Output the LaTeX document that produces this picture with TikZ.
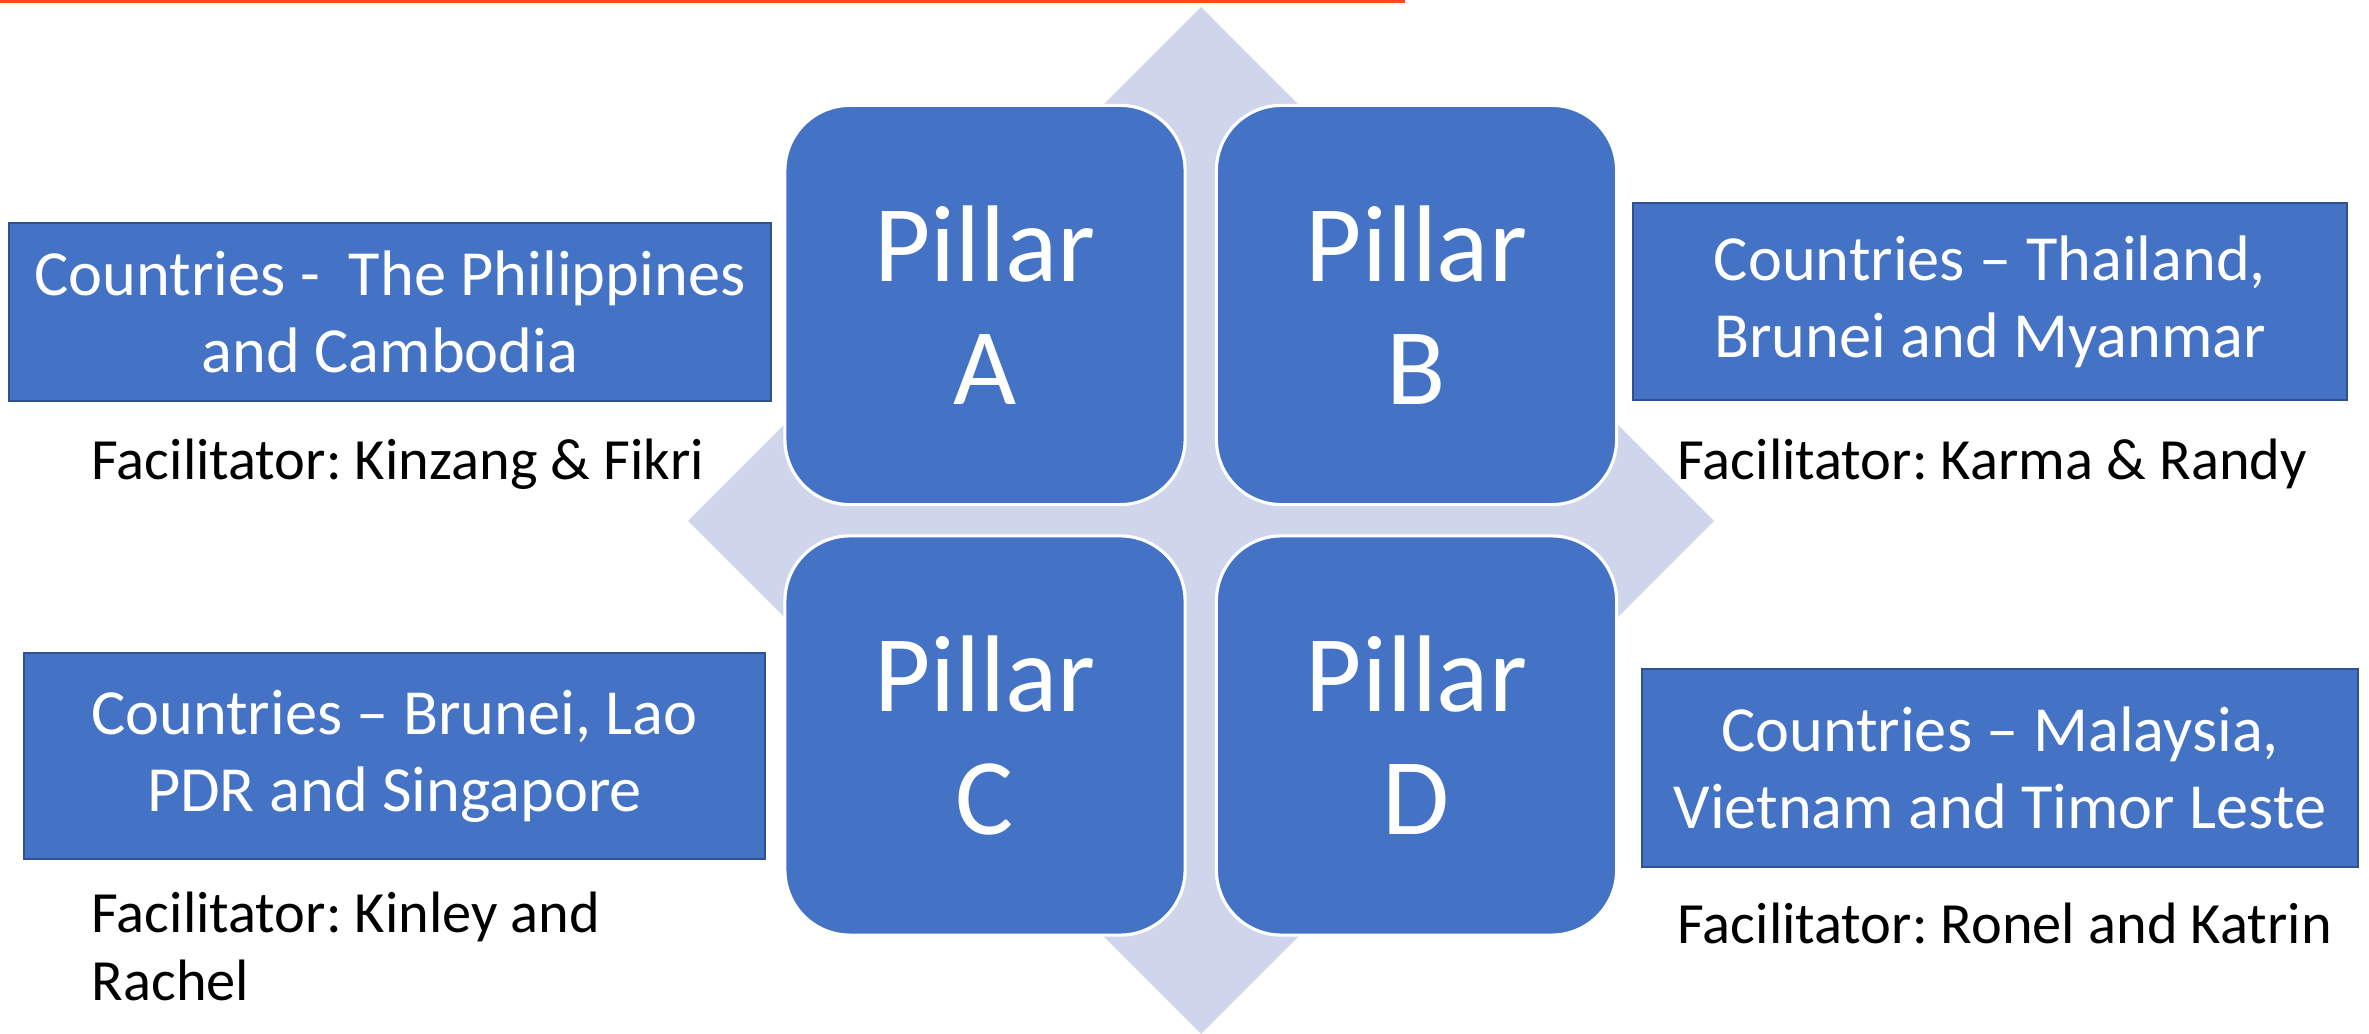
\documentclass[tikz,border=0pt]{standalone}
\usepackage{fontspec}
\setmainfont{Carlito}
\frenchspacing
\definecolor{pillarblue}{RGB}{68,114,196}
\definecolor{boxline}{RGB}{47,82,143}
\definecolor{diamondgrey}{RGB}{207,213,234}
\definecolor{topred}{RGB}{250,75,25}

\begin{document}
\begin{tikzpicture}[x=0.01cm,y=-0.01cm]
\tikzstyle{pillar}=[draw=white,line width=0.9pt,fill=pillarblue,rounded corners=0.65cm,minimum width=4cm,minimum height=3.99cm,inner sep=0pt,text=white,align=center,font=\fontsize{31}{35}\selectfont];
\tikzstyle{country}=[draw=boxline,line width=0.6pt,fill=pillarblue,inner sep=0pt,text=white,align=center,font=\fontsize{18.3}{21.9}\selectfont];
\tikzstyle{facil}=[anchor=base west,inner sep=0pt,align=left,font=\fontsize{16.6}{19.3}\selectfont];
\useasboundingbox (0,0) rectangle (2369,1034);
\fill[topred] (0,0) rectangle (1405,3);
\fill[diamondgrey] (1201,7) -- (1714,521) -- (1201,1034) -- (688,521) -- cycle;
\node[pillar] (pa) at (985,305) {Pillar\\A};
\node[pillar] (pb) at (1416.5,305) {Pillar\\B};
\node[pillar] (pc) at (985,735.5) {Pillar\\C};
\node[pillar] (pd) at (1416.5,735.5) {Pillar\\D};
\node[country,minimum width=7.62cm,minimum height=1.78cm] (ca) at (390,312) {Countries -\ \ The Philippines\\and Cambodia};
\node[country,minimum width=7.14cm,minimum height=1.97cm] (cb) at (1990,301.5) {Countries -- Thailand,\\Brunei and Myanmar};
\node[country,minimum width=7.41cm,minimum height=2.06cm] (cc) at (394.5,756) {Countries -- Brunei, Lao\\PDR and Singapore};
\node[country,minimum width=7.16cm,minimum height=1.98cm] (cd) at (2000,768) {Countries -- Malaysia,\\Vietnam and Timor Leste};
\node[facil] (fa) at (91,480) {Facilitator: Kinzang \& Fikri};
\node[facil] (fb) at (1677,480) {Facilitator: Karma \& Randy};
\node[facil] (fc) at (91,1000) {Facilitator: Kinley and\\Rachel};
\node[facil] (fd) at (1677,943) {Facilitator: Ronel and Katrin};
\end{tikzpicture}
\end{document}
